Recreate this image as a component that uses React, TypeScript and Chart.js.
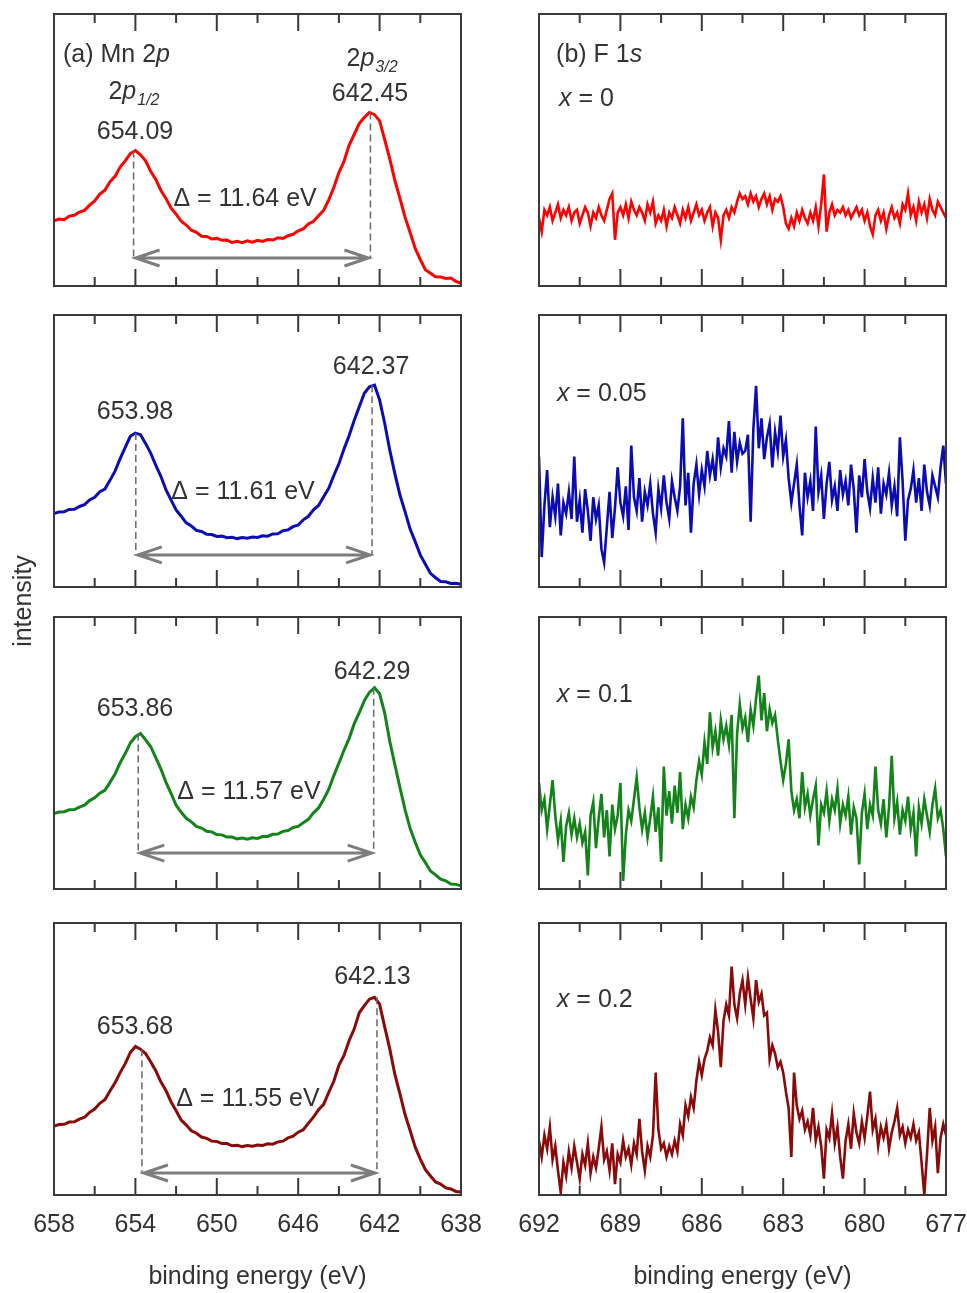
import { useEffect, useRef } from "react";
import { Chart, registerables } from "chart.js";

Chart.register(...registerables);

const FONT = '"Liberation Sans", Arial, Helvetica, sans-serif';
const TEXT = "#333333";
const FRAME = "#3a3a3a";

// ---------- Mn 2p (binding energy, eV) ----------
const MN_ENERGY = [
  658, 657.75, 657.5, 657.25, 657, 656.75, 656.5, 656.25, 656, 655.75,
  655.5, 655.25, 655, 654.75, 654.5, 654.25, 654, 653.75, 653.5, 653.25,
  653, 652.75, 652.5, 652.25, 652, 651.75, 651.5, 651.25, 651, 650.75,
  650.5, 650.25, 650, 649.75, 649.5, 649.25, 649, 648.75, 648.5, 648.25,
  648, 647.75, 647.5, 647.25, 647, 646.75, 646.5, 646.25, 646, 645.75,
  645.5, 645.25, 645, 644.75, 644.5, 644.25, 644, 643.75, 643.5, 643.25,
  643, 642.75, 642.5, 642.25, 642, 641.75, 641.5, 641.25, 641, 640.75,
  640.5, 640.25, 640, 639.75, 639.5, 639.25, 639, 638.75, 638.5, 638.25,
  638,
];
const MN_X0 = [
  0.240, 0.246, 0.244, 0.257, 0.260, 0.272, 0.278, 0.297, 0.313, 0.338,
  0.352, 0.383, 0.403, 0.437, 0.460, 0.487, 0.498, 0.482, 0.460, 0.422,
  0.392, 0.352, 0.322, 0.287, 0.264, 0.238, 0.224, 0.205, 0.197, 0.183,
  0.182, 0.173, 0.175, 0.168, 0.169, 0.160, 0.164, 0.159, 0.166, 0.161,
  0.168, 0.164, 0.171, 0.169, 0.177, 0.175, 0.185, 0.190, 0.203, 0.210,
  0.228, 0.238, 0.258, 0.278, 0.317, 0.362, 0.417, 0.458, 0.517, 0.557,
  0.597, 0.620, 0.638, 0.630, 0.607, 0.538, 0.467, 0.388, 0.322, 0.253,
  0.197, 0.138, 0.097, 0.060, 0.047, 0.034, 0.033, 0.028, 0.029, 0.017,
  0.010,
];
const MN_X005 = [
  0.270, 0.276, 0.277, 0.285, 0.286, 0.296, 0.303, 0.320, 0.330, 0.350,
  0.360, 0.392, 0.426, 0.472, 0.513, 0.554, 0.566, 0.560, 0.528, 0.492,
  0.448, 0.407, 0.358, 0.320, 0.283, 0.260, 0.236, 0.224, 0.208, 0.204,
  0.194, 0.193, 0.186, 0.187, 0.181, 0.183, 0.178, 0.182, 0.179, 0.184,
  0.182, 0.188, 0.187, 0.195, 0.196, 0.207, 0.210, 0.222, 0.228, 0.247,
  0.260, 0.284, 0.300, 0.332, 0.363, 0.410, 0.453, 0.507, 0.556, 0.612,
  0.663, 0.712, 0.736, 0.742, 0.688, 0.602, 0.503, 0.417, 0.338, 0.277,
  0.213, 0.167, 0.118, 0.084, 0.050, 0.034, 0.020, 0.019, 0.013, 0.014,
  0.010,
];
const MN_X01 = [
  0.277, 0.283, 0.284, 0.291, 0.292, 0.301, 0.308, 0.325, 0.335, 0.352,
  0.363, 0.392, 0.423, 0.464, 0.498, 0.537, 0.560, 0.572, 0.548, 0.524,
  0.483, 0.442, 0.393, 0.352, 0.308, 0.282, 0.260, 0.247, 0.230, 0.224,
  0.212, 0.210, 0.200, 0.199, 0.191, 0.191, 0.184, 0.187, 0.183, 0.188,
  0.186, 0.193, 0.193, 0.201, 0.202, 0.212, 0.215, 0.226, 0.230, 0.244,
  0.256, 0.280, 0.298, 0.330, 0.366, 0.417, 0.463, 0.510, 0.553, 0.607,
  0.648, 0.692, 0.723, 0.740, 0.718, 0.647, 0.543, 0.457, 0.373, 0.292,
  0.223, 0.172, 0.126, 0.097, 0.066, 0.052, 0.036, 0.030, 0.018, 0.017,
  0.012,
];
const MN_X02 = [
  0.253, 0.259, 0.260, 0.268, 0.269, 0.279, 0.286, 0.304, 0.316, 0.337,
  0.350, 0.382, 0.413, 0.450, 0.483, 0.524, 0.546, 0.536, 0.520, 0.490,
  0.457, 0.416, 0.384, 0.343, 0.310, 0.275, 0.257, 0.236, 0.227, 0.213,
  0.208, 0.198, 0.197, 0.189, 0.189, 0.181, 0.183, 0.178, 0.182, 0.179,
  0.184, 0.182, 0.188, 0.187, 0.195, 0.198, 0.210, 0.216, 0.231, 0.240,
  0.264, 0.286, 0.314, 0.333, 0.377, 0.418, 0.477, 0.513, 0.567, 0.610,
  0.670, 0.696, 0.720, 0.727, 0.702, 0.618, 0.537, 0.443, 0.372, 0.296,
  0.237, 0.176, 0.132, 0.093, 0.070, 0.048, 0.040, 0.026, 0.022, 0.013,
  0.011,
];

// ---------- F 1s (binding energy, eV) ----------
const F_ENERGY = [
  692, 691.9, 691.8, 691.7, 691.6, 691.5, 691.4, 691.3, 691.2, 691.1,
  691, 690.9, 690.8, 690.7, 690.6, 690.5, 690.4, 690.3, 690.2, 690.1,
  690, 689.9, 689.8, 689.7, 689.6, 689.5, 689.4, 689.3, 689.2, 689.1,
  689, 688.9, 688.8, 688.7, 688.6, 688.5, 688.4, 688.3, 688.2, 688.1,
  688, 687.9, 687.8, 687.7, 687.6, 687.5, 687.4, 687.3, 687.2, 687.1,
  687, 686.9, 686.8, 686.7, 686.6, 686.5, 686.4, 686.3, 686.2, 686.1,
  686, 685.9, 685.8, 685.7, 685.6, 685.5, 685.4, 685.3, 685.2, 685.1,
  685, 684.9, 684.8, 684.7, 684.6, 684.5, 684.4, 684.3, 684.2, 684.1,
  684, 683.9, 683.8, 683.7, 683.6, 683.5, 683.4, 683.3, 683.2, 683.1,
  683, 682.9, 682.8, 682.7, 682.6, 682.5, 682.4, 682.3, 682.2, 682.1,
  682, 681.9, 681.8, 681.7, 681.6, 681.5, 681.4, 681.3, 681.2, 681.1,
  681, 680.9, 680.8, 680.7, 680.6, 680.5, 680.4, 680.3, 680.2, 680.1,
  680, 679.9, 679.8, 679.7, 679.6, 679.5, 679.4, 679.3, 679.2, 679.1,
  679, 678.9, 678.8, 678.7, 678.6, 678.5, 678.4, 678.3, 678.2, 678.1,
  678, 677.9, 677.8, 677.7, 677.6, 677.5, 677.4, 677.3, 677.2, 677.1,
  677,
];
const F_X0 = [
  0.25, 0.20, 0.28, 0.26, 0.29, 0.24, 0.27, 0.30, 0.25, 0.28,
  0.26, 0.29, 0.24, 0.27, 0.28, 0.23, 0.26, 0.29, 0.27, 0.22,
  0.27, 0.25, 0.29, 0.26, 0.24, 0.28, 0.32, 0.34, 0.17, 0.27,
  0.29, 0.26, 0.30, 0.25, 0.31, 0.28, 0.26, 0.29, 0.27, 0.24,
  0.30, 0.27, 0.31, 0.23, 0.26, 0.24, 0.28, 0.22, 0.27, 0.25,
  0.29, 0.26, 0.23, 0.28, 0.25, 0.29, 0.24, 0.27, 0.30, 0.26,
  0.28, 0.24, 0.27, 0.29, 0.22, 0.27, 0.25, 0.17, 0.26, 0.28,
  0.25, 0.29, 0.27, 0.31, 0.34, 0.32, 0.33, 0.30, 0.34, 0.31,
  0.33, 0.29, 0.32, 0.34, 0.30, 0.33, 0.28, 0.32, 0.31, 0.33,
  0.29, 0.23, 0.21, 0.25, 0.22, 0.27, 0.24, 0.28, 0.25, 0.23,
  0.27, 0.24, 0.29, 0.22, 0.30, 0.41, 0.20, 0.27, 0.30, 0.26,
  0.28, 0.27, 0.29, 0.26, 0.28, 0.25, 0.27, 0.29, 0.26, 0.28,
  0.24, 0.27, 0.22, 0.19, 0.26, 0.28, 0.24, 0.27, 0.21, 0.26,
  0.29, 0.25, 0.27, 0.23, 0.30, 0.28, 0.34, 0.26, 0.29, 0.24,
  0.31, 0.27, 0.30, 0.25, 0.32, 0.28, 0.26, 0.31, 0.29, 0.27,
  0.25,
];
const F_X005 = [
  0.48, 0.11, 0.30, 0.43, 0.22, 0.33, 0.26, 0.38, 0.19, 0.31,
  0.27, 0.35, 0.25, 0.48, 0.24, 0.32, 0.20, 0.36, 0.28, 0.17,
  0.33, 0.25, 0.30, 0.14, 0.09, 0.22, 0.35, 0.18, 0.29, 0.44,
  0.31, 0.26, 0.37, 0.21, 0.52, 0.33, 0.28, 0.40, 0.24, 0.35,
  0.30, 0.38, 0.27, 0.20, 0.36, 0.29, 0.41, 0.31, 0.25, 0.39,
  0.33, 0.28, 0.37, 0.62, 0.30, 0.42, 0.20, 0.38, 0.45, 0.34,
  0.43, 0.37, 0.50, 0.41, 0.47, 0.39, 0.55, 0.44, 0.51, 0.48,
  0.61, 0.42, 0.57, 0.46, 0.53, 0.49, 0.50, 0.56, 0.24, 0.58,
  0.74, 0.51, 0.62, 0.47, 0.55, 0.60, 0.44, 0.57, 0.50, 0.63,
  0.48, 0.54, 0.40, 0.31, 0.38, 0.45, 0.30, 0.19, 0.42, 0.33,
  0.39, 0.28, 0.59, 0.35, 0.41, 0.25, 0.38, 0.46, 0.32, 0.37,
  0.28, 0.43, 0.34, 0.39, 0.30, 0.45, 0.36, 0.20, 0.41, 0.33,
  0.47, 0.35, 0.29, 0.40, 0.31, 0.44, 0.27, 0.38, 0.34, 0.42,
  0.30, 0.37, 0.26, 0.55, 0.39, 0.17, 0.32, 0.36, 0.43, 0.31,
  0.40, 0.28, 0.45, 0.35, 0.30, 0.41, 0.37, 0.33, 0.44, 0.52,
  0.38,
];
const F_X01 = [
  0.39, 0.29, 0.33, 0.22, 0.31, 0.40, 0.27, 0.18, 0.25, 0.10,
  0.23, 0.28, 0.20, 0.26, 0.19, 0.24, 0.17, 0.21, 0.05, 0.27,
  0.32, 0.15, 0.26, 0.35, 0.19, 0.29, 0.12, 0.31, 0.22, 0.27,
  0.39, 0.03, 0.20, 0.29, 0.25, 0.33, 0.41, 0.30, 0.22, 0.28,
  0.19, 0.26, 0.34, 0.21, 0.30, 0.10, 0.45, 0.27, 0.36, 0.24,
  0.38, 0.28, 0.43, 0.22, 0.31, 0.26, 0.34, 0.30, 0.40, 0.47,
  0.42, 0.54, 0.46, 0.65, 0.52, 0.58, 0.49, 0.62, 0.55, 0.60,
  0.53, 0.64, 0.26, 0.57, 0.68, 0.59, 0.63, 0.54, 0.66, 0.60,
  0.70, 0.785, 0.62, 0.72, 0.58, 0.66, 0.61, 0.64, 0.55, 0.47,
  0.40, 0.46, 0.55, 0.36, 0.29, 0.33, 0.26, 0.43, 0.30, 0.35,
  0.27, 0.33, 0.38, 0.16, 0.31, 0.28, 0.36, 0.25, 0.33, 0.29,
  0.37, 0.24, 0.31, 0.27, 0.34, 0.20, 0.30, 0.26, 0.09, 0.28,
  0.35, 0.22, 0.31, 0.27, 0.45, 0.29, 0.24, 0.33, 0.19, 0.30,
  0.49, 0.26, 0.32, 0.20, 0.29, 0.25, 0.34, 0.22, 0.28, 0.12,
  0.30, 0.24, 0.33, 0.27, 0.21, 0.31, 0.37, 0.26, 0.29, 0.22,
  0.12,
];
const F_X02 = [
  0.20, 0.14, 0.22, 0.17, 0.25, 0.13, 0.18, 0.09, 0.01, 0.12,
  0.07, 0.16, 0.10, 0.18, 0.12, 0.06, 0.15, 0.11, 0.19, 0.08,
  0.14, 0.10, 0.17, 0.25, 0.13, 0.16, 0.09, 0.19, 0.04, 0.15,
  0.12, 0.20, 0.14, 0.17, 0.11, 0.19, 0.15, 0.28, 0.16, 0.09,
  0.18, 0.14, 0.22, 0.45, 0.24, 0.17, 0.19, 0.14, 0.18, 0.15,
  0.20, 0.16, 0.26, 0.22, 0.33, 0.29, 0.36, 0.32, 0.42, 0.49,
  0.44, 0.50, 0.53, 0.58, 0.55, 0.68, 0.60, 0.47, 0.64, 0.70,
  0.66, 0.84, 0.70, 0.65, 0.74, 0.79, 0.70, 0.80, 0.72, 0.65,
  0.79, 0.71, 0.74, 0.66, 0.67, 0.50, 0.55, 0.52, 0.47, 0.49,
  0.45, 0.38, 0.32, 0.14, 0.45, 0.33, 0.28, 0.31, 0.24, 0.27,
  0.22, 0.32, 0.20, 0.25, 0.18, 0.06, 0.24, 0.21, 0.30, 0.19,
  0.25, 0.14, 0.06, 0.20, 0.26, 0.17, 0.30, 0.23, 0.19, 0.27,
  0.21, 0.29, 0.38, 0.24, 0.28, 0.18, 0.25, 0.21, 0.26, 0.17,
  0.23, 0.27, 0.32, 0.22, 0.25, 0.19, 0.24, 0.21, 0.26, 0.20,
  0.23, 0.12, 0.00, 0.15, 0.32, 0.20, 0.25, 0.08, 0.21, 0.26,
  0.22,
];

// ---------- ticks, labels ----------
const MN_TICKS = [658, 654, 650, 646, 642, 638];
const MN_MINOR = [656, 652, 648, 644, 640];
const F_TICKS = [692, 689, 686, 683, 680, 677];
const F_MINOR = [690.5, 687.5, 684.5, 681.5, 678.5];
const X_VALUES = ["0", "0.05", "0.1", "0.2"];
const P12 = [654.09, 653.98, 653.86, 653.68];
const P32 = [642.45, 642.37, 642.29, 642.13];
const DELTA = [11.64, 11.61, 11.57, 11.55];
const COLORS = ["#ff0000", "#0c0cb4", "#13831a", "#8a0a0a"];

// annotation placement (energy, fraction of panel height)
const MN_LABEL_POS = [
  { p12: [654.02, 0.574], p32: [642.47, 0.713], delta: [648.61, 0.327] },
  { p12: [654.02, 0.651], p32: [642.42, 0.816], delta: [648.71, 0.357] },
  { p12: [654.02, 0.669], p32: [642.37, 0.805], delta: [648.42, 0.364] },
  { p12: [654.02, 0.625], p32: [642.35, 0.809], delta: [648.47, 0.36] },
];
const ARROW_LEVEL = [0.103, 0.118, 0.132, 0.081];
const X_LABEL_POS = [
  [691.26, 0.695],
  [691.34, 0.717],
  [691.34, 0.72],
  [691.34, 0.724],
];

// ---------- layout ----------
const ROW_TOPS = [14, 315, 617, 923];
const PANEL_H = 272;
const PANEL_W = 407;
const CANVAS_W = 500;
const PAD_TOP = 12;
const PAD_BOTTOM = 10;
const AXIS_H = 97;
const COLS = {
  mn: { canvasLeft: 0, plotLeft: 54 },
  f: { canvasLeft: 490, plotLeft: 539 },
};

type Seg = { t: string; it?: boolean; sub?: boolean };
type Label = { segs: Seg[]; e: number; f: number; size: number; align: "left" | "center" };
type Side = "mn" | "f";
type PanelSpec = {
  key: string;
  row: number;
  side: Side;
  energy: number[];
  values: number[];
  color: string;
};

function valueNear(energy: number[], values: number[], e: number) {
  let best = 0;
  for (let i = 1; i < energy.length; i++) {
    if (Math.abs(energy[i] - e) < Math.abs(energy[best] - e)) best = i;
  }
  return values[best];
}

function drawRich(ctx: CanvasRenderingContext2D, segs: Seg[], x: number, cy: number, size: number, align: "left" | "center") {
  const subSize = Math.round(size * 0.62);
  const fontOf = (s: Seg) => `${s.it ? "italic " : ""}${s.sub ? subSize : size}px ${FONT}`;
  const widths = segs.map((s) => {
    ctx.font = fontOf(s);
    return ctx.measureText(s.t).width + (s.sub ? 1 : 0);
  });
  const total = widths.reduce((a, b) => a + b, 0);
  let cx = align === "center" ? x - total / 2 : x;
  const base = cy + size * 0.358;
  ctx.textAlign = "left";
  ctx.textBaseline = "alphabetic";
  ctx.fillStyle = TEXT;
  segs.forEach((s, i) => {
    ctx.font = fontOf(s);
    ctx.fillText(s.t, cx + (s.sub ? 1 : 0), s.sub ? base + size * 0.24 : base);
    cx += widths[i];
  });
}

function labelsFor(spec: PanelSpec): Label[] {
  const r = spec.row;
  const out: Label[] = [];
  if (spec.side === "mn") {
    const pos = MN_LABEL_POS[r];
    out.push({ segs: [{ t: P12[r].toFixed(2) }], e: pos.p12[0], f: pos.p12[1], size: 25, align: "center" });
    out.push({ segs: [{ t: P32[r].toFixed(2) }], e: pos.p32[0], f: pos.p32[1], size: 25, align: "center" });
    out.push({
      segs: [{ t: `Δ = ${DELTA[r].toFixed(2)} eV` }],
      e: pos.delta[0],
      f: pos.delta[1],
      size: 25,
      align: "center",
    });
    if (r === 0) {
      out.push({ segs: [{ t: "(a) Mn 2" }, { t: "p", it: true }], e: 657.56, f: 0.858, size: 25, align: "left" });
      out.push({
        segs: [{ t: "2" }, { t: "p", it: true }, { t: "1/2", it: true, sub: true }],
        e: 654.07,
        f: 0.72,
        size: 25,
        align: "center",
      });
      out.push({
        segs: [{ t: "2" }, { t: "p", it: true }, { t: "3/2", it: true, sub: true }],
        e: 642.37,
        f: 0.842,
        size: 25,
        align: "center",
      });
    }
  } else {
    const p = X_LABEL_POS[r];
    out.push({ segs: [{ t: "x", it: true }, { t: ` = ${X_VALUES[r]}` }], e: p[0], f: p[1], size: 25, align: "left" });
    if (r === 0) {
      out.push({ segs: [{ t: "(b) F 1" }, { t: "s", it: true }], e: 691.37, f: 0.857, size: 25, align: "left" });
    }
  }
  return out;
}

function decorPlugin(spec: PanelSpec) {
  return {
    id: "panelDecor",
    afterDatasetsDraw(chart: any) {
      const { ctx, chartArea: a } = chart;
      const xs = chart.scales.x;
      const ys = chart.scales.y;
      ctx.save();
      if (spec.side === "mn") {
        const r = spec.row;
        const ya = ys.getPixelForValue(ARROW_LEVEL[r]);
        ctx.strokeStyle = "#6a6a6a";
        ctx.lineWidth = 1.5;
        ctx.setLineDash([7, 4]);
        [P12[r], P32[r]].forEach((e) => {
          const px = xs.getPixelForValue(e);
          const top = ys.getPixelForValue(valueNear(spec.energy, spec.values, e));
          ctx.beginPath();
          ctx.moveTo(px, top);
          ctx.lineTo(px, ya);
          ctx.stroke();
        });
        ctx.setLineDash([]);
        const x1 = xs.getPixelForValue(P12[r]) + 2;
        const x2 = xs.getPixelForValue(P32[r]) - 2;
        ctx.strokeStyle = "#7d7d7d";
        ctx.lineWidth = 3;
        ctx.lineJoin = "miter";
        ctx.beginPath();
        ctx.moveTo(x1, ya);
        ctx.lineTo(x2, ya);
        ctx.moveTo(x1 + 24, ya - 8);
        ctx.lineTo(x1, ya);
        ctx.lineTo(x1 + 24, ya + 8);
        ctx.moveTo(x2 - 24, ya - 8);
        ctx.lineTo(x2, ya);
        ctx.lineTo(x2 - 24, ya + 8);
        ctx.stroke();
      }
      // frame
      ctx.strokeStyle = FRAME;
      ctx.lineWidth = 2;
      ctx.strokeRect(a.left, a.top, a.right - a.left, a.bottom - a.top);
      // inward ticks, top and bottom
      const majors = spec.side === "mn" ? MN_TICKS : F_TICKS;
      const minors = spec.side === "mn" ? MN_MINOR : F_MINOR;
      ctx.beginPath();
      const tick = (v: number, len: number) => {
        const px = xs.getPixelForValue(v);
        ctx.moveTo(px, a.top);
        ctx.lineTo(px, a.top + len);
        ctx.moveTo(px, a.bottom);
        ctx.lineTo(px, a.bottom - len);
      };
      majors.forEach((v) => tick(v, 17));
      minors.forEach((v) => tick(v, 9));
      ctx.stroke();
      // text annotations
      labelsFor(spec).forEach((l) =>
        drawRich(ctx, l.segs, xs.getPixelForValue(l.e), ys.getPixelForValue(l.f), l.size, l.align)
      );
      ctx.restore();
    },
  };
}

function buildConfig(spec: PanelSpec, isBottom: boolean): any {
  const col = COLS[spec.side];
  const padLeft = col.plotLeft - col.canvasLeft;
  const padRight = CANVAS_W - padLeft - PANEL_W;
  const majors = spec.side === "mn" ? MN_TICKS : F_TICKS;
  const xScale: any = {
    type: "linear",
    reverse: true,
    min: Math.min(...majors),
    max: Math.max(...majors),
    display: isBottom,
    afterBuildTicks: (s: any) => {
      s.ticks = majors.map((v) => ({ value: v }));
    },
    grid: { display: false, drawTicks: false },
    border: { display: false },
    ticks: {
      color: TEXT,
      font: { family: FONT, size: 25 },
      padding: 15,
      maxRotation: 0,
      minRotation: 0,
      autoSkip: false,
    },
    title: {
      display: true,
      text: "binding energy (eV)",
      color: TEXT,
      font: { family: FONT, size: 25 },
      padding: 0,
    },
  };
  if (isBottom) {
    xScale.afterFit = (s: any) => {
      s.height = AXIS_H;
    };
  }
  return {
    type: "line",
    data: {
      datasets: [
        {
          data: spec.energy.map((e, i) => ({ x: e, y: spec.values[i] })),
          borderColor: spec.color,
          borderWidth: spec.side === "mn" ? 3 : 2.6,
          pointRadius: 0,
          tension: 0,
          fill: false,
        },
      ],
    },
    options: {
      animation: false,
      responsive: false,
      maintainAspectRatio: false,
      devicePixelRatio: 1,
      events: [],
      layout: {
        padding: { left: padLeft, right: padRight, top: PAD_TOP, bottom: isBottom ? 0 : PAD_BOTTOM },
      },
      plugins: { legend: { display: false }, tooltip: { enabled: false }, title: { display: false } },
      scales: {
        x: xScale,
        y: { display: false, min: 0, max: 1 },
      },
    },
    plugins: [decorPlugin(spec)],
  };
}

function Panel({ spec }: { spec: PanelSpec }) {
  const ref = useRef<HTMLCanvasElement>(null);
  const isBottom = spec.row === ROW_TOPS.length - 1;
  const height = PAD_TOP + PANEL_H + (isBottom ? AXIS_H : PAD_BOTTOM);
  const top = ROW_TOPS[spec.row] - PAD_TOP;
  const left = COLS[spec.side].canvasLeft;
  useEffect(() => {
    const chart = new Chart(ref.current as HTMLCanvasElement, buildConfig(spec, isBottom));
    return () => chart.destroy();
  }, []);
  return (
    <canvas
      ref={ref}
      width={CANVAS_W}
      height={height}
      style={{ position: "absolute", left, top, width: CANVAS_W, height }}
    />
  );
}

const MN_SERIES = [MN_X0, MN_X005, MN_X01, MN_X02];
const F_SERIES = [F_X0, F_X005, F_X01, F_X02];

export default function App() {
  const specs: PanelSpec[] = [];
  for (let r = 0; r < 4; r++) {
    specs.push({ key: `mn${r}`, row: r, side: "mn", energy: MN_ENERGY, values: MN_SERIES[r], color: COLORS[r] });
    specs.push({ key: `f${r}`, row: r, side: "f", energy: F_ENERGY, values: F_SERIES[r], color: COLORS[r] });
  }
  return (
    <div
      style={{
        position: "absolute",
        left: 0,
        top: 0,
        width: 967,
        height: 1293,
        overflow: "hidden",
        background: "#ffffff",
      }}
    >
      {specs.map((s) => (
        <Panel key={s.key} spec={s} />
      ))}
      <div
        style={{
          position: "absolute",
          left: 22 - 100,
          top: 601 - 15,
          width: 200,
          height: 30,
          lineHeight: "30px",
          textAlign: "center",
          transform: "rotate(-90deg)",
          fontFamily: FONT,
          fontSize: 25,
          color: TEXT,
        }}
      >
        intensity
      </div>
    </div>
  );
}
